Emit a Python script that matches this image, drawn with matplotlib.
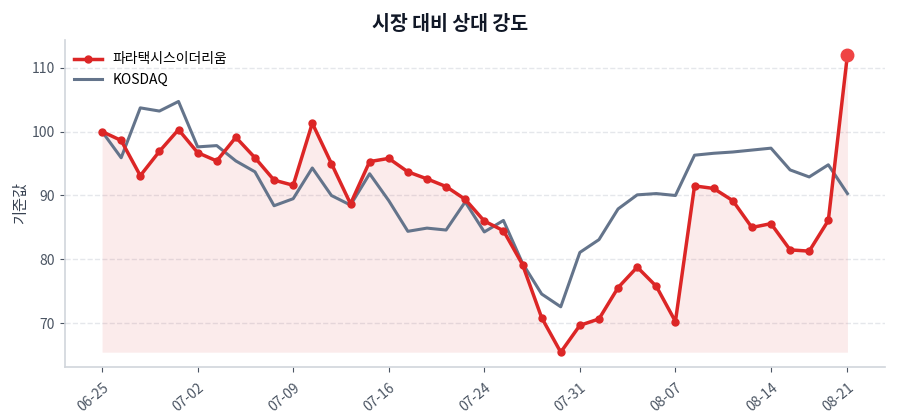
import matplotlib
matplotlib.use("Agg")
import matplotlib.pyplot as plt

plt.rcParams["font.family"] = ["Noto Sans CJK KR", "DejaVu Sans"]

# --- Data (rebased to 100)
tick_pos = [0, 5, 10, 15, 20, 25, 30, 35, 39]
tick_labels = ["06-25", "07-02", "07-09", "07-16", "07-24", "07-31", "08-07", "08-14", "08-21"]

stock = [100.0, 98.6, 93.1, 96.9, 100.3, 96.7, 95.4, 99.1, 95.9, 92.4,
         91.6, 101.3, 95.0, 88.7, 95.3, 95.8, 93.7, 92.6, 91.4, 89.4,
         86.0, 84.5, 79.2, 70.9, 65.5, 69.7, 70.7, 75.6, 78.8, 75.8,
         70.3, 91.5, 91.1, 89.2, 85.0, 85.6, 81.5, 81.3, 86.1, 112.0]
kosdaq = [100.0, 95.9, 103.7, 103.2, 104.7, 97.6, 97.8, 95.4, 93.7, 88.4,
          89.5, 94.3, 90.0, 88.5, 93.4, 89.2, 84.4, 84.9, 84.6, 89.0,
          84.3, 86.1, 79.4, 74.6, 72.6, 81.1, 83.1, 87.9, 90.1, 90.3,
          90.0, 96.3, 96.6, 96.8, 97.1, 97.4, 94.0, 92.9, 94.8, 90.3]

RED = "#dc2626"
SLATE = "#64748b"
x = list(range(len(stock)))

fig = plt.figure(figsize=(9, 4.2), dpi=100)
ax = fig.add_axes([0.072, 0.126, 0.911, 0.779])

ax.fill_between(x, stock, min(stock), color=RED, alpha=0.09, linewidth=0)
ax.plot(x, stock, color=RED, lw=2.5, marker="o", ms=5, label="파라택시스이더리움", zorder=3)
ax.plot(x, kosdaq, color=SLATE, lw=2.2, label="KOSDAQ", zorder=2)
ax.plot(x[-1], stock[-1], "o", color="#ef4444", ms=9, zorder=4)

ax.set_xticks(tick_pos)
ax.set_xticklabels(tick_labels, rotation=40, ha="right", rotation_mode="anchor")
ax.set_yticks([70, 80, 90, 100, 110])
ax.tick_params(colors="#4b5563", labelsize=10)
ax.tick_params(axis="x", pad=6)

ax.grid(axis="y", ls="--", color="#e5e7eb", lw=1)
ax.set_axisbelow(True)
for s in ["top", "right"]:
    ax.spines[s].set_visible(False)
for s in ["left", "bottom"]:
    ax.spines[s].set_color("#d1d5db")
    ax.spines[s].set_linewidth(1.2)

ax.set_ylabel("기준값", color="#374151", fontsize=11, labelpad=2)
fig.suptitle("시장 대비 상대 강도", fontsize=14, fontweight="bold", color="#111827", y=0.965)
ax.legend(loc="upper left", frameon=False, fontsize=10, bbox_to_anchor=(-0.004, 1.0))

fig.savefig("out.png", dpi=100)
